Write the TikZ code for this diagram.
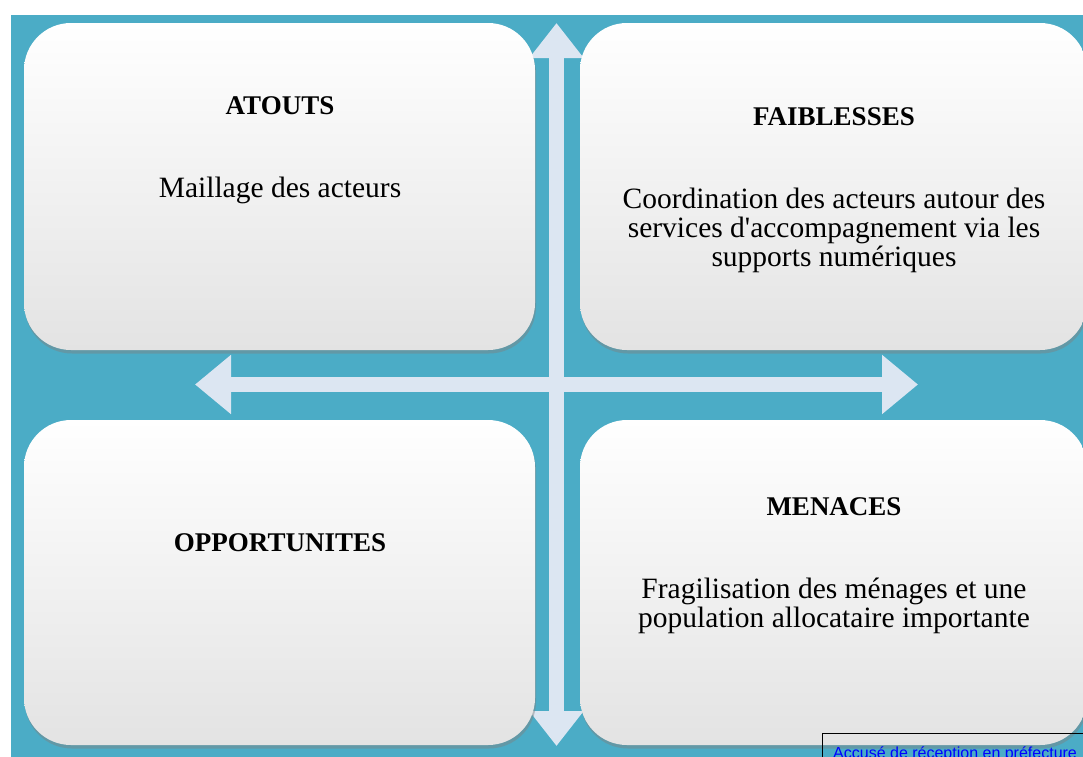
\documentclass[tikz,border=0pt]{standalone}
\usepackage{fontspec}
\setmainfont{Liberation Serif}
\newfontfamily\stampfont{Liberation Sans}
\usetikzlibrary{arrows.meta,shadows}
\definecolor{fond}{HTML}{4BACC6}
\definecolor{fleche}{HTML}{DCE6F2}
\definecolor{boxbot}{HTML}{E3E3E3}
\definecolor{stampblue}{HTML}{0000FF}
\tikzset{quad/.style={rounded corners=47pt,top color=white,bottom color=boxbot,
    inner sep=0pt,drop shadow={shadow xshift=1pt,shadow yshift=-3.5pt,opacity=.45}},
  titre/.style={font=\fontsize{27}{30}\selectfont\bfseries,anchor=base,inner sep=0pt},
  corps/.style={font=\fontsize{29.5}{28.8}\selectfont,align=center,inner sep=0pt},
  axe/.style={draw=fleche,line width=15pt},
  tampon/.style={draw=black,line width=.8pt}}

\begin{document}
\begin{tikzpicture}[x=1pt,y=-1pt]
\useasboundingbox (0,0) rectangle (1083,756);
\clip (0,0) rectangle (1083,756);
\fill[fond] (11,15) rectangle (1090,760);
% axes
\coordinate (haut) at (556.5,23);
\coordinate (bas) at (556.5,746);
\coordinate (gauche) at (195,384.5);
\coordinate (droite) at (918,384.5);
\draw[axe,{Triangle[length=35pt,width=52pt]}-{Triangle[length=35pt,width=52pt]}] (haut) -- (bas);
\draw[axe,{Triangle[length=36pt,width=57pt]}-{Triangle[length=36pt,width=57pt]}] (gauche) -- (droite);
% les quatre cadres
\node[quad,minimum width=511pt,minimum height=327pt] (atouts) at (279.5,186.5) {};
\node[quad,minimum width=507pt,minimum height=327pt] (faib) at (833.5,186.5) {};
\node[quad,minimum width=511pt,minimum height=325pt] (opp) at (279.5,582.5) {};
\node[quad,minimum width=507pt,minimum height=325pt] (men) at (833.5,582.5) {};
\node[titre] (tatouts) at (280,114.5) {ATOUTS};
\node[corps,anchor=base] (catouts) at (280,197) {Maillage des acteurs};
\node[titre] (tfaib) at (834,125) {FAIBLESSES};
\node[corps] (cfaib) at (834,230.5) {Coordination des acteurs autour des\\services d\textquotesingle accompagnement via les\\supports numériques};
\node[titre] (topp) at (280,551) {OPPORTUNITES};
\node[titre] (tmen) at (834,515) {MENACES};
\node[corps] (cmen) at (834,605.5) {Fragilisation des ménages et une\\population allocataire importante};
% tampon
\draw[tampon] (822,733) rectangle (1090,770);
\node[anchor=base west,inner sep=0pt,text=stampblue,font=\stampfont\fontsize{16}{18}\selectfont] (acc) at (833,758.5) {Accusé de réception en préfecture};
\end{tikzpicture}
\end{document}
